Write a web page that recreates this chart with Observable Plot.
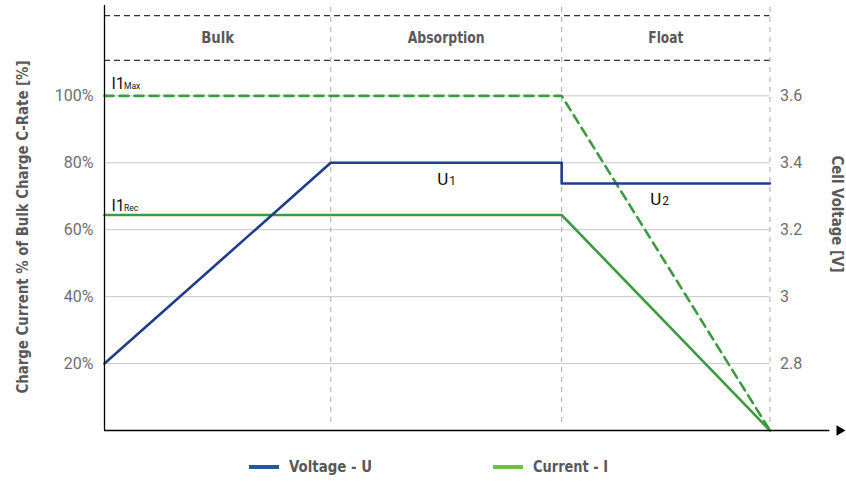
<!DOCTYPE html>
<html><head><meta charset="utf-8">
<script src="https://cdn.jsdelivr.net/npm/d3@7"></script>
<script src="https://cdn.jsdelivr.net/npm/@observablehq/plot@0.6"></script>
<style>
body{margin:0;background:#fff;}
#chart{position:relative;width:846px;height:481px;overflow:hidden;}
#legend{position:absolute;left:0;top:448px;width:846px;height:33px;font-family:'DejaVu Sans Condensed','DejaVu Sans',sans-serif;font-weight:bold;font-size:16px;color:#58595b;}
#legend .sw{position:absolute;top:17px;width:30px;height:4px;}
#legend .lb{position:absolute;top:9px;line-height:20px;white-space:nowrap;transform-origin:0 50%;}
</style></head><body><div id="chart"></div>
<script>
// ---- data ----
const phaseNames = ["Bulk", "Absorption", "Float"];
const phaseBounds = [0, 34, 68.7, 100];          // time (arbitrary units)
const pctTicks = [20, 40, 60, 80, 100];           // left axis (%)
const voltTicks = ["2.8", "3", "3.2", "3.4", "3.6"]; // right axis (V)
const voltageT = [0, 34, 68.7, 68.7, 100];
const voltageV = [2.8, 3.4, 3.4, 3.338, 3.338];
const currentRecT = [0, 68.7, 100];
const currentRecPct = [64.4, 64.4, 0];
const currentMaxT = [0, 68.7, 100];
const currentMaxPct = [100, 100, 0];
const legendNames = ["Voltage - U", "Current - I"];
const yTitle = "Charge Current % of Bulk Charge C-Rate [%]";
const y2Title = "Cell Voltage [V]";
const headerTopPct = 124, headerBottomPct = 110.6, headerMidPct = 117.3;

// voltage axis shares the percent scale: 2.6 V at 0 %, +0.2 V per 20 %
const vToPct = v => (v - 2.6) * 100;

const voltage = voltageT.map((t, i) => ({t, y: vToPct(voltageV[i])}));
const currentRec = currentRecT.map((t, i) => ({t, y: currentRecPct[i]}));
const currentMax = currentMaxT.map((t, i) => ({t, y: currentMaxPct[i]}));

const BLUE = "#1f3d88", GREEN = "#3d9b3f";
const COND = "'DejaVu Sans Condensed','DejaVu Sans',sans-serif";
const GREYTXT = "#58595b";

function subLabel(x, y, main, sub, dx, dy, mainSize, subSize, subDx) {
  return [
    Plot.text([main], {x: () => x, y: () => y, text: d => d, dx, dy, textAnchor: "start", lineAnchor: "bottom", fontSize: mainSize, fill: "#111"}),
    Plot.text([sub], {x: () => x, y: () => y, text: d => d, dx: dx + subDx, dy, textAnchor: "start", lineAnchor: "bottom", fontSize: subSize, fill: "#111"})
  ];
}

const chart = Plot.plot({
  width: 846, height: 448,
  marginLeft: 104, marginRight: 10, marginTop: 5, marginBottom: 18,
  x: {domain: [0, 110], axis: null},
  y: {domain: [0, 127], axis: null},
  style: {fontFamily: "Roboto, sans-serif", background: "#fff", overflow: "visible"},
  marks: [
    Plot.ruleY(pctTicks, {x1: 0, x2: 100, stroke: "#c8c8c8", strokeWidth: 1}),
    Plot.ruleX(phaseBounds.slice(1), {y1: 2.4, y2: 127, stroke: "#a8a8a8", strokeWidth: 1, strokeDasharray: "5,5"}),
    Plot.ruleY([headerTopPct, headerBottomPct], {x1: 0, x2: 100, stroke: "#333", strokeWidth: 1.3, strokeDasharray: "6,4"}),
    Plot.text(phaseNames, {x: (d, i) => (phaseBounds[i] + phaseBounds[i + 1]) / 2, y: () => headerMidPct, text: d => d,
      fontFamily: COND, fontWeight: "bold", fontSize: 16, fill: GREYTXT}),
    Plot.line(currentMax, {x: "t", y: "y", stroke: GREEN, strokeWidth: 2.6, strokeDasharray: "9,6"}),
    Plot.line(currentRec, {x: "t", y: "y", stroke: GREEN, strokeWidth: 2.6}),
    Plot.line(voltage, {x: "t", y: "y", stroke: BLUE, strokeWidth: 2.6}),
    // axes
    Plot.ruleX([0], {y1: 0, y2: 127, stroke: "#000", strokeWidth: 1.3}),
    Plot.ruleY([0], {x1: 0, x2: 109, stroke: "#000", strokeWidth: 1.5}),
    Plot.dot([0], {x: () => 110, y: () => 0, symbol: "triangle2", r: 5, rotate: 90, fill: "#000", dx: 3}),
    Plot.text(pctTicks, {x: () => 0, y: d => d, text: d => d + "%", textAnchor: "end", dx: -11, fontSize: 16, fill: "#6d6e71"}),
    Plot.text(voltTicks, {x: () => 100, y: d => vToPct(+d), text: d => d, textAnchor: "start", dx: 10, fontSize: 16, fill: "#6d6e71"}),
    Plot.text([yTitle], {frameAnchor: "left", text: d => d, rotate: -90, dx: -82, dy: 9, textAnchor: "middle",
      fontFamily: COND, fontWeight: "bold", fontSize: 16, fill: GREYTXT}),
    Plot.text([y2Title], {frameAnchor: "right", text: d => d, rotate: 90, dx: 0, dy: -4, textAnchor: "middle",
      fontFamily: COND, fontWeight: "bold", fontSize: 15.5, fill: GREYTXT}),
    // in-chart labels
    ...subLabel(0, 100, "I1", "Max", 7, -7, 16, 8.5, 12.5),
    ...subLabel(0, currentRecPct[0], "I1", "Rec", 7, -4, 16, 8.5, 12.5),
    ...subLabel(50, vToPct(voltageV[1]), "U", "1", 0, 22, 17, 12, 12),
    ...subLabel(82, vToPct(voltageV[4]), "U", "2", 0, 21, 17, 12, 12)
  ]
});
const holder = document.getElementById("chart");
holder.appendChild(chart);

// condensed look: fit bold labels to the reference widths
const fitWidths = {"Bulk": 33, "Absorption": 77, "Float": 35, [yTitle]: 333, [y2Title]: 117};
d3.select(chart).selectAll("text").each(function() {
  const t = this.textContent;
  if (fitWidths[t] && this.children.length === 0) {
    this.setAttribute("textLength", fitWidths[t]);
    this.setAttribute("lengthAdjust", "spacingAndGlyphs");
  }
});

const legend = document.createElement("div");
legend.id = "legend";
const items = [{name: legendNames[0], color: "#1f5a9c", sw: 249, tx: 289, w: 83}, {name: legendNames[1], color: "#6cbf48", sw: 493, tx: 533, w: 75}];
holder.appendChild(legend);
for (const it of items) {
  const s = document.createElement("div"); s.className = "sw"; s.style.left = it.sw + "px"; s.style.background = it.color; legend.appendChild(s);
  const l = document.createElement("div"); l.className = "lb"; l.style.left = it.tx + "px"; l.textContent = it.name; legend.appendChild(l);
  const w = l.getBoundingClientRect().width;
  if (w > 0) l.style.transform = `scaleX(${it.w / w})`;
}
</script></body></html>
